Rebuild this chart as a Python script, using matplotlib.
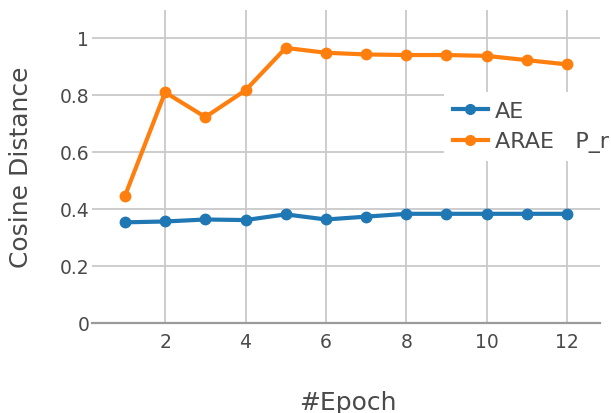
import matplotlib
matplotlib.use("Agg")
import matplotlib.pyplot as plt
from matplotlib.lines import Line2D

plt.rcParams['font.family'] = ['DejaVu Sans']

epochs = [1, 2, 3, 4, 5, 6, 7, 8, 9, 10, 11, 12]
ae = [0.352, 0.355, 0.362, 0.360, 0.380, 0.362, 0.372, 0.382, 0.382, 0.382, 0.382, 0.382]
arae = [0.445, 0.809, 0.722, 0.816, 0.965, 0.948, 0.942, 0.940, 0.940, 0.937, 0.922, 0.907]
series_names = ["AE", "ARAE   P_r"]
x_ticks = [2, 4, 6, 8, 10, 12]
y_ticks = [0, 0.2, 0.4, 0.6, 0.8, 1.0]
y_tick_labels = ["0", "0.2", "0.4", "0.6", "0.8", "1"]

W, H = 611, 414
fig = plt.figure(figsize=(W / 100, H / 100), dpi=100)
fig.patch.set_facecolor("white")

left, right, top, bottom = 92, 600, 10.5, 323.5
ax = fig.add_axes([left / W, 1 - bottom / H, (right - left) / W, (bottom - top) / H])
ax.set_facecolor("white")

blue = "#1f77b4"
orange = "#ff7f0e"
grid_c = "#c9c9c9"
text_c = "#4a4a4a"

ax.plot(epochs, ae, color=blue, lw=3.0, marker="o", ms=7.5, zorder=3, solid_capstyle="round")
ax.plot(epochs, arae, color=orange, lw=3.0, marker="o", ms=7.5, zorder=3, solid_capstyle="round")

ax.set_xlim(0.18, 12.82)
ax.set_ylim(0, 1.1)
ax.set_xticks(x_ticks)
ax.set_xticklabels([str(t) for t in x_ticks])
ax.set_yticks(y_ticks)
ax.set_yticklabels(y_tick_labels)

ax.grid(True, color=grid_c, lw=1.3, zorder=0)
ax.set_axisbelow(True)
for s in ["top", "right", "left"]:
    ax.spines[s].set_visible(False)
ax.spines["bottom"].set_color("#9a9a9a")
ax.spines["bottom"].set_linewidth(1.6)
ax.spines["bottom"].set_zorder(1)

ax.tick_params(axis="both", length=0, labelsize=13.5, labelcolor=text_c)
ax.tick_params(axis="x", pad=7)
ax.tick_params(axis="y", pad=2)

fig.text(21 / W, 1 - 167 / H, "Cosine Distance", rotation=90, ha="center", va="center",
         fontsize=18, color=text_c)
fig.text(348 / W, 1 - 403 / H, "#Epoch", ha="center", va="center", fontsize=18, color=text_c)

handles = [Line2D([0], [0], color=blue, lw=3.0, marker="o", ms=7),
           Line2D([0], [0], color=orange, lw=3.0, marker="o", ms=7)]
leg = ax.legend(handles, series_names, loc="upper left",
                bbox_to_anchor=(444 / W, 1 - 93 / H), bbox_transform=fig.transFigure,
                frameon=True, fancybox=False, framealpha=1, facecolor="white", edgecolor="none",
                fontsize=16, handlelength=1.58, handletextpad=0.3, labelspacing=0.47,
                borderpad=0.4, borderaxespad=0)
for t in leg.get_texts():
    t.set_color(text_c)
leg.set_zorder(5)

fig.savefig("out.png", dpi=100)
